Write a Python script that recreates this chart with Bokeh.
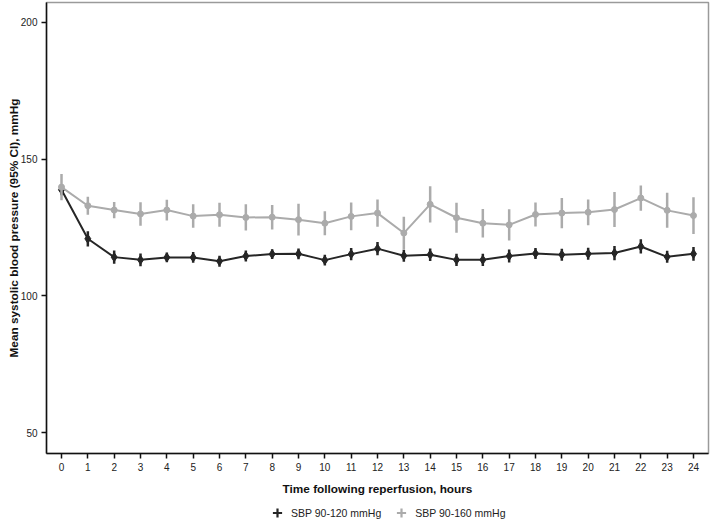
import numpy as np
from bokeh.plotting import figure
from bokeh.layouts import column
from bokeh.models import Range1d, FixedTicker, Legend, LegendItem, ColumnDataSource
from bokeh.embed import file_html
from bokeh.resources import INLINE

# ---- data ----
hours = list(range(25))
tick_hours = list(range(25))
y_ticks = [50, 100, 150, 200]

sbp120_mean = [138.8, 120.9, 114.2, 113.2, 114.1, 114.1, 112.7, 114.6, 115.3, 115.4,
               113.1, 115.3, 117.3, 114.7, 115.1, 113.2, 113.2, 114.6, 115.5, 115.1,
               115.4, 115.7, 118.1, 114.3, 115.4]
sbp120_ci = [2.0, 2.8, 2.4, 2.3, 1.8, 2.0, 2.0, 2.0, 1.8, 2.0,
             2.0, 2.2, 2.4, 2.2, 2.3, 2.2, 2.2, 2.4, 2.0, 2.2,
             2.2, 2.6, 2.6, 2.2, 2.5]

sbp160_mean = [139.8, 133.0, 131.4, 130.0, 131.4, 129.2, 129.7, 128.7, 128.8, 127.9,
               126.6, 129.1, 130.3, 123.0, 133.5, 128.6, 126.6, 126.0, 129.8, 130.3,
               130.6, 131.6, 135.8, 131.3, 129.4]
sbp160_ci = [4.8, 3.3, 3.0, 4.3, 3.8, 4.3, 4.4, 4.8, 4.5, 5.8,
             4.4, 5.1, 5.0, 6.0, 6.6, 5.5, 5.2, 5.7, 4.4, 5.5,
             4.7, 6.4, 4.6, 6.4, 6.7]

label_120 = "SBP 90-120 mmHg"
label_160 = "SBP 90-160 mmHg"

DARK = "#262626"
GREY = "#ababab"
FONT = "Liberation Sans"

def make_source(mean, ci):
    m = np.array(mean)
    c = np.array(ci)
    return ColumnDataSource(dict(x=hours, y=m, lo=m - c, hi=m + c))

src120 = make_source(sbp120_mean, sbp120_ci)
src160 = make_source(sbp160_mean, sbp160_ci)

p = figure(width=711, height=501, output_backend="svg", toolbar_location=None,
           x_range=Range1d(-0.57, 24.57), y_range=Range1d(42.4, 207.3),
           min_border_left=46, min_border_right=3, min_border_top=2, min_border_bottom=48)
p.background_fill_color = "white"
p.border_fill_color = "white"
p.outline_line_color = "#9a9a9a"
p.outline_line_width = 1.5
p.xgrid.visible = False
p.ygrid.visible = False

# dark series
p.line("x", "y", source=src120, line_color=DARK, line_width=2)
p.segment(x0="x", y0="lo", x1="x", y1="hi", source=src120, line_color=DARK, line_width=2.5)
p.scatter("x", "y", source=src120, marker="diamond", size=9, fill_color=DARK, line_color=DARK)

# grey series
p.line("x", "y", source=src160, line_color=GREY, line_width=2)
p.segment(x0="x", y0="lo", x1="x", y1="hi", source=src160, line_color=GREY, line_width=2.5)
p.scatter("x", "y", source=src160, marker="circle", size=6, fill_color=GREY, line_color=GREY)

# axes
for ax in (p.xaxis[0], p.yaxis[0]):
    ax.axis_line_color = "#111111"
    ax.axis_line_width = 1.5
    ax.major_tick_line_color = "#111111"
    ax.major_tick_line_width = 1.5
    ax.major_tick_out = 5
    ax.major_tick_in = 0
    ax.minor_tick_line_color = None
    ax.major_label_text_font = FONT
    ax.major_label_text_font_size = "10px"
    ax.major_label_text_color = "#222222"
    ax.major_label_standoff = 4
    ax.axis_label_text_font = FONT
    ax.axis_label_text_font_size = "11.8px"
    ax.axis_label_text_font_style = "bold"
    ax.axis_label_text_color = "#111111"

p.xaxis.ticker = FixedTicker(ticks=tick_hours)
p.yaxis.ticker = FixedTicker(ticks=y_ticks)
p.xaxis.axis_label = "Time following reperfusion, hours"
p.yaxis.axis_label = "Mean systolic blood pressure (95% CI), mmHg"
p.xaxis.axis_label_standoff = 8
p.yaxis.axis_label_standoff = -3

# ---- legend strip below the chart ----
lf = figure(width=711, height=23, output_backend="svg", toolbar_location=None,
            x_axis_type=None, y_axis_type=None, x_range=Range1d(0, 1), y_range=Range1d(0, 1),
            min_border_left=0, min_border_right=0, min_border_top=0, min_border_bottom=0)
lf.outline_line_color = None
lf.background_fill_color = "white"
lf.border_fill_color = "white"
lf.xgrid.visible = False
lf.ygrid.visible = False

nan_src = ColumnDataSource(dict(x=[np.nan], y=[np.nan]))
d_cross = lf.scatter("x", "y", source=nan_src, marker="cross", line_color=DARK, line_width=2.2)
g_cross = lf.scatter("x", "y", source=nan_src, marker="cross", line_color=GREY, line_width=2.2)

legend = Legend(items=[LegendItem(label=label_120, renderers=[d_cross]),
                       LegendItem(label=label_160, renderers=[g_cross])],
                orientation="horizontal", location=(219, 0),
                border_line_alpha=0, background_fill_alpha=0,
                label_text_font=FONT, label_text_font_size="10.5px", label_text_color="#222222",
                glyph_width=24, glyph_height=23, label_standoff=2, spacing=8,
                padding=0, margin=0)
lf.add_layout(legend, "center")

layout = column(p, lf, spacing=0)
open("out.html", "w").write(file_html(layout, INLINE))
